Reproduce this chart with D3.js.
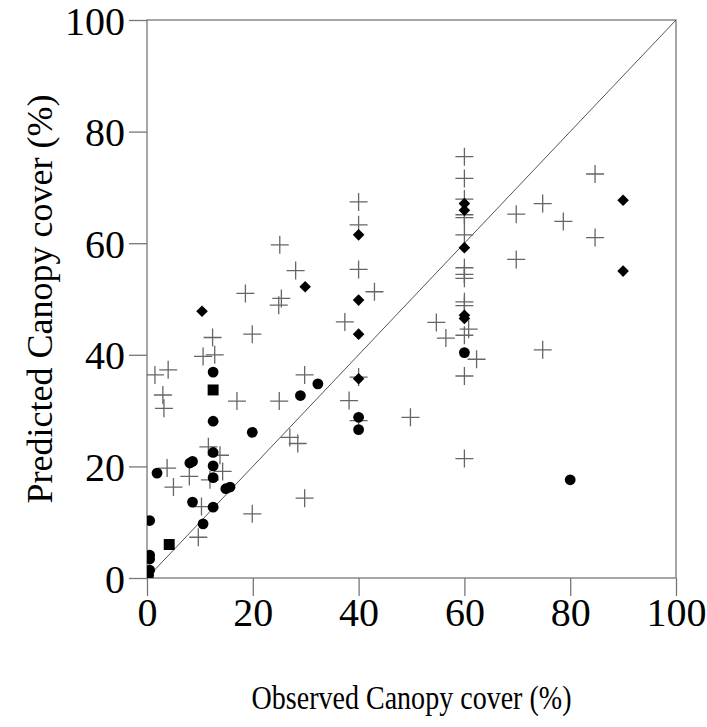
<!DOCTYPE html>
<html>
<head>
<meta charset="utf-8">
<script src="https://cdn.jsdelivr.net/npm/d3@7"></script>
<style>
  body { margin: 0; background: #fff; }
  text { font-family: "Liberation Serif", "Times New Roman", serif; fill: #000; }
</style>
</head>
<body>
<script>
// Observed vs predicted canopy cover (%), one array per marker type.
var crosses = [
  [25.4, 50.1], [24.9, 48.9], [12.4, 43.1], [19.9, 43.7], [10.6, 39.7], [12.8, 40.0],
  [4.0, 37.3], [1.5, 36.4], [3.0, 32.8], [3.2, 30.4], [17.0, 31.7], [25.0, 31.7],
  [27.0, 25.2], [28.5, 24.1], [11.6, 23.5], [13.8, 22.0], [3.8, 19.7], [8.0, 18.2],
  [11.9, 17.6], [14.3, 19.1], [5.0, 16.3], [10.3, 12.8], [19.9, 11.5], [9.7, 7.3],
  [40, 67.4], [40, 63.3], [25.1, 59.7], [28.1, 55.1], [40, 55.3], [43.0, 51.3],
  [37.4, 45.9], [29.8, 36.4], [38.2, 31.8], [40, 28.2], [40, 36.0], [49.8, 28.8],
  [29.8, 14.3], [18.6, 51.0],
  [60, 75.5], [60, 71.6], [60, 67.9], [60, 65.1], [60, 64.6], [60, 61.5], [60, 55.6],
  [60, 54.4], [60, 53.7], [60, 49.5], [60, 48.8], [60, 43.5], [60, 36.2], [60, 21.4],
  [60.8, 44.6], [54.7, 45.8], [56.5, 43.0], [62.3, 39.2], [69.8, 65.2], [74.8, 67.1],
  [78.7, 63.9], [69.8, 57.1], [74.8, 40.9], [84.7, 72.4], [84.7, 61.0]
];
var circles = [
  [12.5, 36.9], [12.5, 28.1], [19.9, 26.1], [12.5, 22.5], [8.1, 20.6], [8.6, 20.9],
  [12.5, 20.1], [1.9, 18.8], [12.5, 18.0], [14.9, 16.0], [15.7, 16.3], [8.6, 13.6],
  [12.5, 12.7], [10.6, 9.7], [0.5, 10.3], [0.5, 4.1], [0.5, 3.4], [0.5, 1.4], [0.3, 0.5],
  [32.3, 34.8], [29.0, 32.7], [40, 28.8], [40, 26.6], [60, 40.4], [80, 17.6]
];
var squares = [[12.5, 33.7], [4.2, 6.0]];
var diamonds = [
  [10.4, 47.8], [40, 61.5], [29.9, 52.2], [40, 49.8], [40, 43.7], [40, 35.7],
  [60, 67.1], [60, 65.9], [60, 59.2], [60, 47.1], [60, 46.5], [90, 67.7], [90, 55.0]
];
var ticks = [0, 20, 40, 60, 80, 100];

var margin = {top: 20, left: 147},
  width = 529,
  height = 558,
  serif = '"Liberation Serif", "Times New Roman", serif';

var svg = d3.select("body").append("svg")
    .attr("width", 707)
    .attr("height", 727),
  g = svg.append("g")
    .attr("transform", "translate(" + margin.left + "," + margin.top + ")");

var x = d3.scaleLinear().domain([0, 100]).range([0, width]),
  y = d3.scaleLinear().domain([0, 100]).range([height, 0]);

g.append("clipPath").attr("id", "clip")
  .append("rect").attr("width", width).attr("height", height);

// Axes (ticks outward, big serif labels).
var xAxis = g.append("g")
    .attr("transform", "translate(0," + height + ")")
    .call(d3.axisBottom(x).tickValues(ticks).tickSize(18).tickPadding(2));
var yAxis = g.append("g")
    .call(d3.axisLeft(y).tickValues(ticks).tickSize(18).tickPadding(4));

[xAxis, yAxis].forEach(function(a) {
  a.attr("font-family", serif).attr("font-size", 40);
  a.select(".domain").remove();
  a.selectAll("line").attr("stroke", "#777").attr("stroke-width", 1.3);
  a.selectAll("text").attr("fill", "#000");
});
yAxis.selectAll("text").attr("dy", "0.35em");

// Frame.
g.append("rect")
    .attr("width", width)
    .attr("height", height)
    .attr("fill", "none")
    .attr("stroke", "#777")
    .attr("stroke-width", 1.3);

var plot = g.append("g").attr("clip-path", "url(#clip)");

// 1:1 line.
plot.append("line")
    .attr("x1", x(0)).attr("y1", y(0))
    .attr("x2", x(100)).attr("y2", y(100))
    .attr("stroke", "#555")
    .attr("stroke-width", 1);

var plus = function(d) {
  var s = 9, cx = x(d[0]), cy = y(d[1]);
  return "M" + (cx - s) + "," + cy + "H" + (cx + s) + "M" + cx + "," + (cy - s) + "V" + (cy + s);
};

plot.selectAll(".cross")
    .data(crosses)
  .enter().append("path")
    .attr("class", "cross")
    .attr("d", plus)
    .attr("stroke", "#666")
    .attr("stroke-width", 1.3)
    .attr("fill", "none");

plot.selectAll(".circle")
    .data(circles)
  .enter().append("circle")
    .attr("class", "circle")
    .attr("cx", function(d) { return x(d[0]); })
    .attr("cy", function(d) { return y(d[1]); })
    .attr("r", 5.4)
    .attr("fill", "#000");

plot.selectAll(".square")
    .data(squares)
  .enter().append("path")
    .attr("class", "square")
    .attr("d", d3.symbol().type(d3.symbolSquare).size(120))
    .attr("transform", function(d) { return "translate(" + x(d[0]) + "," + y(d[1]) + ")"; })
    .attr("fill", "#000");

plot.selectAll(".diamond")
    .data(diamonds)
  .enter().append("path")
    .attr("class", "diamond")
    .attr("d", "M0,-5.8L5.8,0L0,5.8L-5.8,0Z")
    .attr("transform", function(d) { return "translate(" + x(d[0]) + "," + y(d[1]) + ")"; })
    .attr("fill", "#000");

// Axis titles.
svg.append("text")
    .attr("x", margin.left + width / 2)
    .attr("y", 709)
    .attr("text-anchor", "middle")
    .attr("font-family", serif)
    .attr("font-size", 34)
    .attr("textLength", 320)
    .attr("lengthAdjust", "spacingAndGlyphs")
    .text("Observed Canopy cover (%)");

svg.append("text")
    .attr("transform", "translate(52," + (margin.top + height / 2) + ") rotate(-90)")
    .attr("text-anchor", "middle")
    .attr("font-family", serif)
    .attr("font-size", 36)
    .text("Predicted Canopy cover (%)");
</script>
</body>
</html>
